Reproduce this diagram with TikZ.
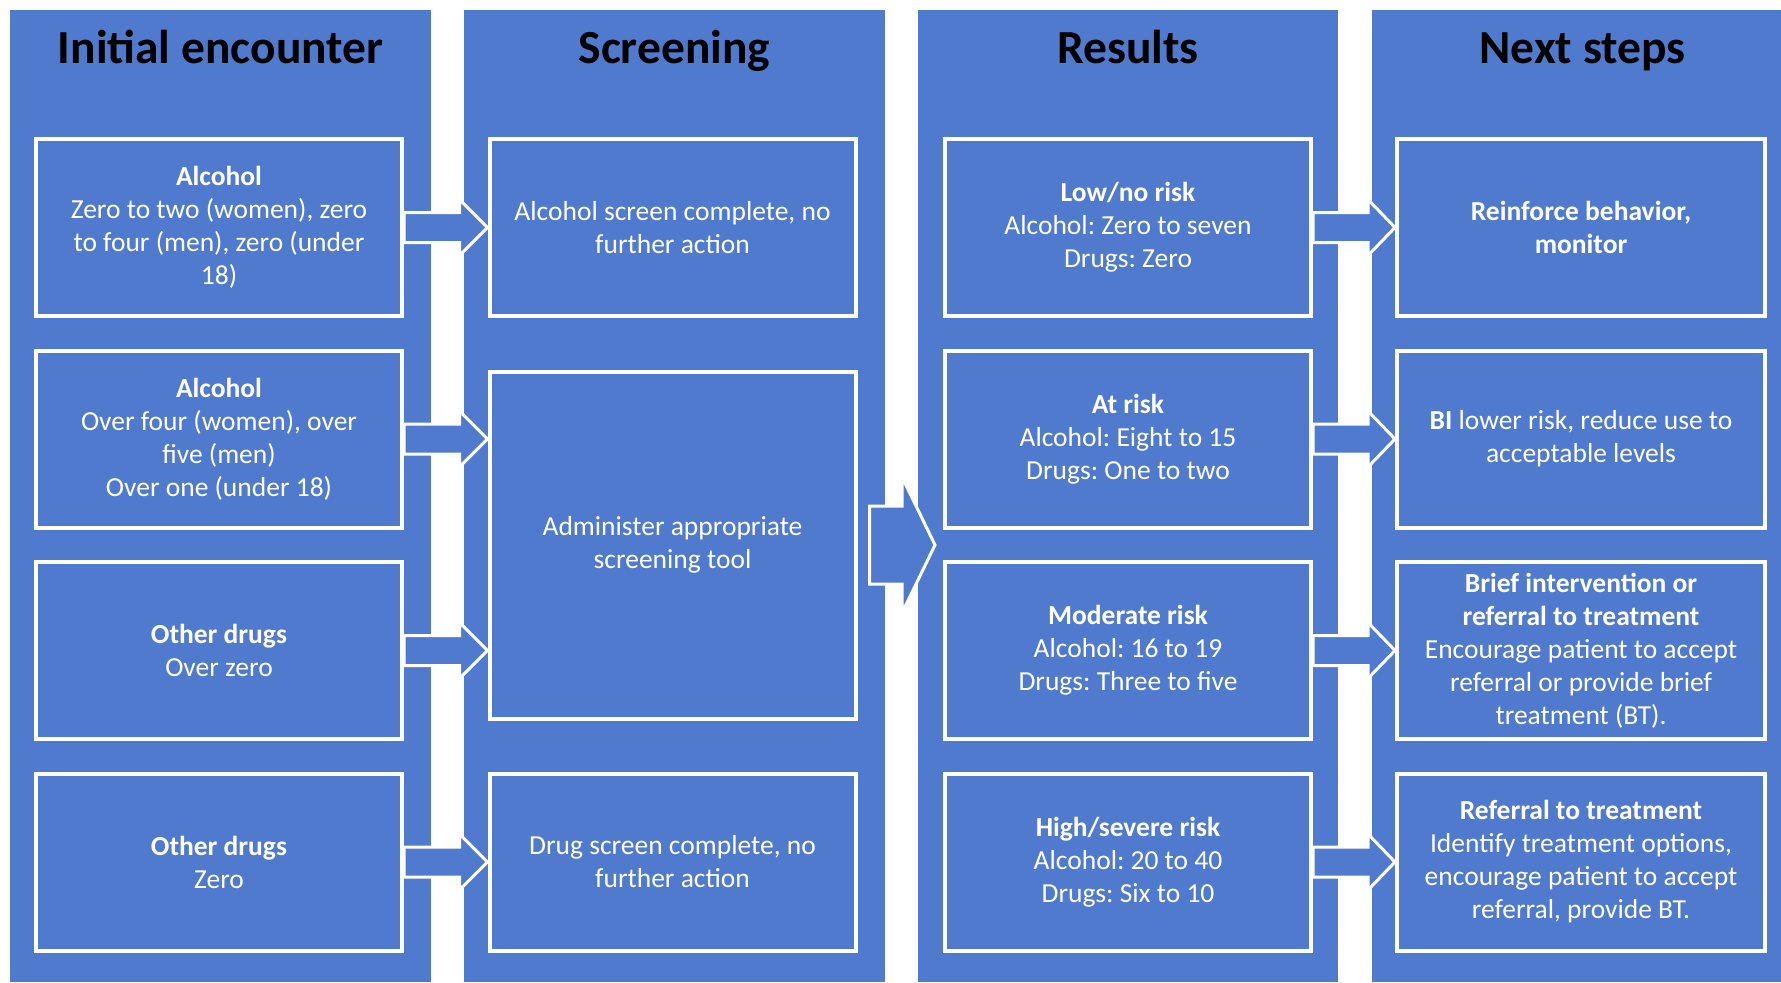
\documentclass[tikz,border=0pt]{standalone}
\usepackage{fontspec}
\setmainfont{Carlito}
\usetikzlibrary{calc}
\definecolor{mainblue}{RGB}{80,122,206}
\frenchspacing
\newcommand\boxfont{\fontsize{27.5bp}{33bp}\selectfont}
\newcommand\headfont{\fontsize{47.5bp}{56bp}\selectfont\bfseries}
% block arrow: start, tip, shaft half-height, head half-height, head length
\newcommand\blockarrow[5]{%
  \draw[barrow] let \p1=(#1), \p2=(#2) in
    (\x1,\y2+#3bp) -- (\x2-#5bp,\y2+#3bp) -- (\x2-#5bp,\y2+#4bp) -- (\x2,\y2)
    -- (\x2-#5bp,\y2-#4bp) -- (\x2-#5bp,\y2-#3bp) -- (\x1,\y2-#3bp) -- cycle;}
\tikzset{
  colbg/.style={fill=mainblue, draw=none},
  box/.style={draw=white, line width=4bp, fill=mainblue, text=white,
    minimum width=366bp, minimum height=177bp, align=center, font=\boxfont, inner sep=0pt},
  head/.style={font=\headfont, text=black, anchor=base, inner sep=0pt},
  barrow/.style={draw=white, fill=mainblue, line width=3bp, line join=miter}
}
\begin{document}
\begin{tikzpicture}[x=1bp,y=-1bp]
\useasboundingbox (0,0) rectangle (1781,982);
\fill[white] (0,0) rectangle (1781,982);
% columns
\fill[colbg] (10,10) rectangle (431,982);
\fill[colbg] (464,10) rectangle (885,982);
\fill[colbg] (918,10) rectangle (1338,982);
\fill[colbg] (1372,10) rectangle (1781,982);
% headers
\node[head] (h1) at (220.5,63) {Initial encounter};
\node[head] (h2) at (674.5,63) {Screening};
\node[head] (h3) at (1128,63) {Results};
\node[head] (h4) at (1582.5,63) {Next steps};
% column 1
\node[box] (a1) at (219,227.5) {\textbf{Alcohol}\\Zero to two (women), zero\\to four (men), zero (under\\18)};
\node[box] (a2) at (219,439) {\textbf{Alcohol}\\Over four (women), over\\five (men)\\Over one (under 18)};
\node[box] (a3) at (219,650.5) {\textbf{Other drugs}\\Over zero};
\node[box] (a4) at (219,862) {\textbf{Other drugs}\\Zero};
% column 2
\node[box] (b1) at (672.5,227.5) {Alcohol screen complete, no\\further action};
\node[box, minimum height=347bp] (b2) at (672.5,545) {Administer appropriate\\screening tool};
\node[box] (b3) at (672.5,862) {Drug screen complete, no\\further action};
% column 3
\node[box] (c1) at (1128,227.5) {\textbf{Low/no risk}\\Alcohol: Zero to seven\\Drugs: Zero};
\node[box] (c2) at (1128,439) {\textbf{At risk}\\Alcohol: Eight to 15\\Drugs: One to two};
\node[box] (c3) at (1128,650.5) {\textbf{Moderate risk}\\Alcohol: 16 to 19\\Drugs: Three to five};
\node[box] (c4) at (1128,862) {\textbf{High/severe risk}\\Alcohol: 20 to 40\\Drugs: Six to 10};
% column 4
\node[box, minimum width=368bp] (d1) at (1581,227.5) {\textbf{Reinforce behavior,}\\\textbf{monitor}};
\node[box, minimum width=368bp] (d2) at (1581,439) {\textbf{BI} lower risk, reduce use to\\acceptable levels};
\node[box, minimum width=368bp] (d3) at (1581,650.5) {\textbf{Brief intervention or}\\\textbf{referral to treatment}\\Encourage patient to accept\\referral or provide brief\\treatment (BT).};
\node[box, minimum width=368bp] (d4) at (1581,862) {\textbf{Referral to treatment}\\Identify treatment options,\\encourage patient to accept\\referral, provide BT.};
% arrows column 1 -> column 2
\blockarrow{a1.east}{a1.east -| b1.west}{15}{28}{28}
\blockarrow{a2.east}{a2.east -| b2.west}{15}{28}{28}
\blockarrow{a3.east}{a3.east -| b2.west}{15}{28}{28}
\blockarrow{a4.east}{a4.east -| b3.west}{15}{28}{28}
% big arrow column 2 -> column 3
\blockarrow{$(b2.east)+(12,0)$}{$(b2.east -| c2.west)+(-8,0)$}{39}{68}{33}
% arrows column 3 -> column 4
\blockarrow{c1.east}{c1.east -| d1.west}{15}{28}{27}
\blockarrow{c2.east}{c2.east -| d2.west}{15}{28}{27}
\blockarrow{c3.east}{c3.east -| d3.west}{15}{28}{27}
\blockarrow{c4.east}{c4.east -| d4.west}{15}{28}{27}
\end{tikzpicture}
\end{document}
